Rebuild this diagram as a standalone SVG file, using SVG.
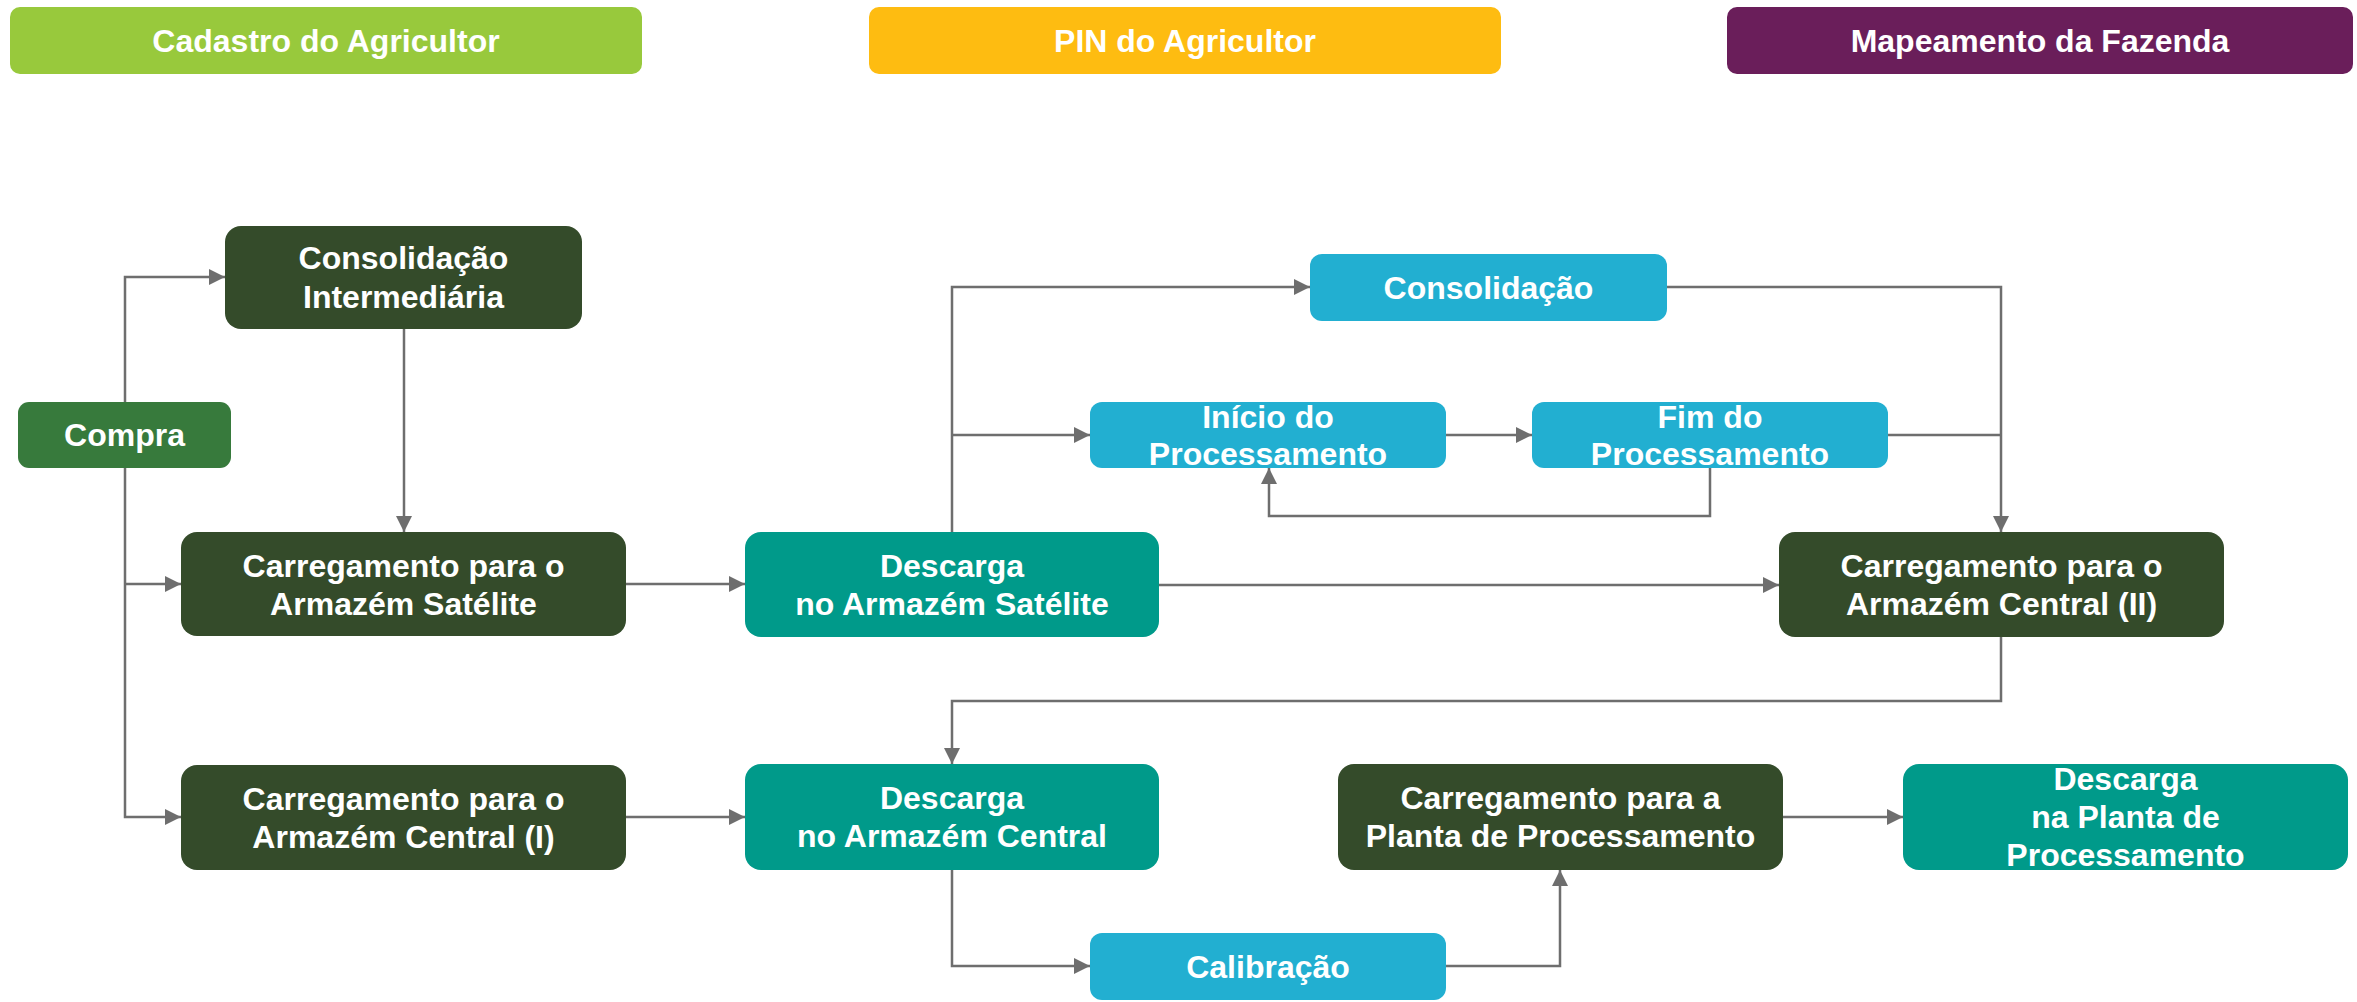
<svg xmlns="http://www.w3.org/2000/svg" width="2357" height="1002" viewBox="0 0 2357 1002">
<style>
text{font-family:"Liberation Sans",Arial,sans-serif;font-weight:bold;font-size:32px;fill:#fff;text-anchor:middle}
.dk{fill:#344B2A}
.tl{fill:#009A8A}
.bl{fill:#22AFD1}
.cn{fill:none;stroke:#6E6E6E;stroke-width:2.5}
.ar{marker-end:url(#ah)}
</style>
<defs>
<marker id="ah" markerUnits="userSpaceOnUse" markerWidth="16" markerHeight="16" refX="16" refY="8" orient="auto" viewBox="0 0 16 16">
<path d="M0,0 L16,8 L0,16 z" fill="#6E6E6E"/>
</marker>
</defs>
<rect width="2357" height="1002" fill="#fff"/>
<g id="headers">
<g id="h-cadastro"><rect x="10" y="7" width="632" height="67" rx="10" fill="#98C93C"/><text x="326" y="52">Cadastro do Agricultor</text></g>
<g id="h-pin"><rect x="869" y="7" width="632" height="67" rx="10" fill="#FEBC11"/><text x="1185" y="52">PIN do Agricultor</text></g>
<g id="h-mapeamento"><rect x="1727" y="7" width="626" height="67" rx="10" fill="#6A1E5A"/><text x="2040" y="52">Mapeamento da Fazenda</text></g>
</g>
<g id="connectors">
<path class="cn ar" d="M125,402 V277 H225"/>
<path class="cn ar" d="M125,468 V817 H181"/>
<path class="cn ar" d="M125,584 H181"/>
<path class="cn ar" d="M404,329 V532"/>
<path class="cn ar" d="M626,584 H745"/>
<path class="cn ar" d="M626,817 H745"/>
<path class="cn ar" d="M952,532 V287 H1310"/>
<path class="cn ar" d="M952,435 H1090"/>
<path class="cn ar" d="M1446,435 H1532"/>
<path class="cn ar" d="M1710,468 V516 H1269 V468"/>
<path class="cn ar" d="M1667,287 H2001 V532"/>
<path class="cn" d="M1888,435 H2001"/>
<path class="cn ar" d="M1159,585 H1779"/>
<path class="cn ar" d="M2001,637 V701 H952 V764"/>
<path class="cn ar" d="M952,870 V966 H1090"/>
<path class="cn ar" d="M1446,966 H1560 V870"/>
<path class="cn ar" d="M1783,817 H1903"/>
</g>
<g id="n-compra"><rect x="18" y="402" width="213" height="66" rx="11" fill="#377A3C"/><text x="124.5" y="446">Compra</text></g>
<g id="n-consolidacao-intermediaria"><rect class="dk" x="225" y="226" width="357" height="103" rx="16"/><text x="403.5" y="269">Consolidação</text><text x="403.5" y="308">Intermediária</text></g>
<g id="n-carregamento-satelite"><rect class="dk" x="181" y="532" width="445" height="104" rx="16"/><text x="403.5" y="577">Carregamento para o</text><text x="403.5" y="615">Armazém Satélite</text></g>
<g id="n-carregamento-central-1"><rect class="dk" x="181" y="765" width="445" height="105" rx="16"/><text x="403.5" y="810">Carregamento para o</text><text x="403.5" y="848">Armazém Central (I)</text></g>
<g id="n-descarga-satelite"><rect class="tl" x="745" y="532" width="414" height="105" rx="16"/><text x="952" y="577">Descarga</text><text x="952" y="615">no Armazém Satélite</text></g>
<g id="n-descarga-central"><rect class="tl" x="745" y="764" width="414" height="106" rx="16"/><text x="952" y="809">Descarga</text><text x="952" y="847">no Armazém Central</text></g>
<g id="n-consolidacao"><rect class="bl" x="1310" y="254" width="357" height="67" rx="12"/><text x="1488.5" y="299">Consolidação</text></g>
<g id="n-inicio"><rect class="bl" x="1090" y="402" width="356" height="66" rx="12"/><text x="1268" y="428">Início do</text><text x="1268" y="465">Processamento</text></g>
<g id="n-fim"><rect class="bl" x="1532" y="402" width="356" height="66" rx="12"/><text x="1710" y="428">Fim do</text><text x="1710" y="465">Processamento</text></g>
<g id="n-carregamento-central-2"><rect class="dk" x="1779" y="532" width="445" height="105" rx="16"/><text x="2001.5" y="577">Carregamento para o</text><text x="2001.5" y="615">Armazém Central (II)</text></g>
<g id="n-carregamento-planta"><rect class="dk" x="1338" y="764" width="445" height="106" rx="16"/><text x="1560.5" y="809">Carregamento para a</text><text x="1560.5" y="847">Planta de Processamento</text></g>
<g id="n-descarga-planta"><rect class="tl" x="1903" y="764" width="445" height="106" rx="16"/><text x="2125.5" y="790">Descarga</text><text x="2125.5" y="828">na Planta de</text><text x="2125.5" y="866">Processamento</text></g>
<g id="n-calibracao"><rect class="bl" x="1090" y="933" width="356" height="67" rx="12"/><text x="1268" y="978">Calibração</text></g>
</svg>
